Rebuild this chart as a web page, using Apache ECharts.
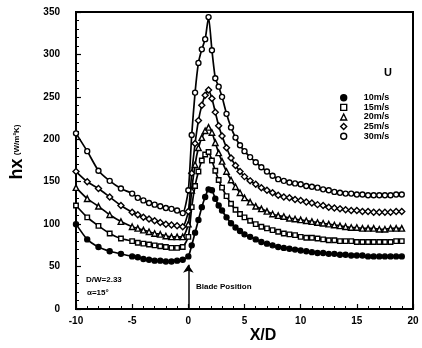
<!DOCTYPE html>
<html>
<head>
<meta charset="utf-8">
<script src="https://cdn.jsdelivr.net/npm/echarts@6/dist/echarts.min.js"></script>
<style>
  html, body { margin: 0; padding: 0; background: #fff; }
  #chart { width: 422px; height: 348px; }
</style>
</head>
<body>
<div id="chart"></div>
<script>
// X/D positions shared by all series
const xPos = [-10, -9, -8, -7, -6, -5, -4.5, -4, -3.5, -3, -2.5, -2, -1.5, -1, -0.5, 0,
  0.3, 0.6, 0.9, 1.2, 1.5, 1.8, 2.1, 2.4, 2.7, 3, 3.4, 3.8, 4.2, 4.6,
  5, 5.5, 6, 6.5, 7, 7.5, 8, 8.5, 9, 9.5, 10, 10.5, 11, 11.5, 12, 12.5, 13, 13.5,
  14, 14.5, 15, 15.5, 16, 16.5, 17, 17.5, 18, 18.5, 19];

// hx (W/m2K) for each velocity
const u10 = [100, 82, 73, 68, 65, 62, 61, 59, 58, 57, 57, 56, 56, 57, 58, 62,
  75, 90, 105, 120, 132, 141, 140, 130, 122, 116, 108, 101, 96, 92,
  88, 85, 82, 79, 77, 75, 73, 72, 71, 70, 69, 68, 67, 66, 66, 65, 65, 64,
  64, 63, 63, 63, 62, 62, 62, 62, 62, 62, 62];
const u15 = [122, 108, 98, 89, 83, 80, 78, 77, 76, 75, 74, 73, 72, 72, 73, 85,
  120, 145, 162, 175, 182, 185, 175, 163, 152, 143, 133, 124, 117, 112,
  108, 104, 100, 97, 95, 93, 91, 89, 88, 87, 85, 84, 84, 83, 82, 81, 81, 80,
  80, 80, 79, 79, 79, 79, 79, 79, 79, 80, 80];
const u20 = [143, 130, 121, 111, 103, 97, 95, 93, 91, 89, 88, 86, 85, 85, 85, 100,
  140, 170, 190, 202, 210, 214, 208, 196, 184, 174, 162, 152, 144, 137,
  131, 126, 121, 118, 115, 112, 110, 109, 107, 106, 105, 104, 103, 102, 101, 100, 99, 98,
  97, 96, 96, 95, 95, 95, 94, 94, 95, 95, 95];
const u25 = [162, 150, 142, 132, 122, 114, 111, 108, 106, 104, 102, 100, 99, 98, 97, 115,
  160, 195, 222, 240, 252, 258, 248, 232, 216, 204, 190, 178, 169, 162,
  156, 151, 147, 143, 140, 137, 134, 132, 131, 129, 128, 126, 125, 123, 122, 120, 119, 118,
  117, 116, 116, 115, 115, 114, 114, 114, 114, 115, 115];
const u30 = [207, 186, 163, 151, 142, 136, 131, 128, 125, 123, 121, 119, 118, 116, 113, 140,
  205, 255, 290, 306, 318, 344, 305, 272, 262, 250, 230, 214, 202, 193,
  186, 179, 173, 167, 162, 157, 153, 151, 149, 148, 147, 145, 144, 143, 141, 140, 138, 137,
  136, 136, 135, 135, 134, 134, 134, 134, 134, 135, 135];

const seriesNames = ['10m/s', '15m/s', '20m/s', '25m/s', '30m/s'];
const seriesValues = [u10, u15, u20, u25, u30];
const seriesSymbols = ['circle', 'rect', 'triangle', 'diamond', 'circle'];
const symbolSizes = [5, 4.5, 5.5, 6, 5];

const FONT = '"Liberation Sans", Arial, sans-serif';

const chart = echarts.init(document.getElementById('chart'));

const series = seriesNames.map((name, i) => {
  const filled = i === 0;
  const s = {
    name: name,
    type: 'line',
    data: xPos.map((x, k) => [x, seriesValues[i][k]]),
    symbol: seriesSymbols[i],
    symbolSize: symbolSizes[i],
    showAllSymbol: true,
    smooth: 0.2,
    lineStyle: { color: '#000', width: 1.7 },
    itemStyle: {
      color: filled ? '#000' : '#fff',
      borderColor: '#000',
      borderWidth: 1.4,
    },
    z: 2 + i,
  };
  if (i === 0) {
    // blade position arrow
    s.markLine = {
      silent: true,
      symbol: ['none', 'arrow'],
      symbolSize: 8,
      label: { show: false },
      lineStyle: { color: '#000', width: 1.5, type: 'solid' },
      data: [[{ coord: [0, 0] }, { coord: [0, 52] }]],
    };
  }
  return s;
});

chart.setOption({
  animation: false,
  grid: {
    left: 76,
    right: 9,
    top: 12,
    bottom: 39,
    show: true,
    borderColor: '#000',
    borderWidth: 2,
  },
  xAxis: {
    type: 'value',
    min: -10,
    max: 20,
    interval: 5,
    axisLine: { onZero: false, lineStyle: { color: '#000', width: 2 } },
    axisTick: { inside: true, length: 5, lineStyle: { color: '#000', width: 1.2 } },
    minorTick: { show: true, splitNumber: 5, length: 3, lineStyle: { color: '#000', width: 1 } },
    splitLine: { show: false },
    axisLabel: { color: '#000', fontFamily: FONT, fontWeight: 'bold', fontSize: 10, margin: 7 },
  },
  yAxis: {
    type: 'value',
    min: 0,
    max: 350,
    interval: 50,
    axisLine: { show: true, onZero: false, lineStyle: { color: '#000', width: 2 } },
    axisTick: { show: true, inside: true, length: 5, lineStyle: { color: '#000', width: 1.2 } },
    minorTick: { show: true, splitNumber: 5, length: 3, lineStyle: { color: '#000', width: 1 } },
    splitLine: { show: false },
    axisLabel: { color: '#000', fontFamily: FONT, fontWeight: 'bold', fontSize: 10, margin: 16 },
  },
  legend: {
    orient: 'vertical',
    left: 335,
    top: 88,
    itemWidth: 6,
    itemHeight: 6,
    itemGap: 0,
    textStyle: { color: '#000', fontFamily: FONT, fontWeight: 'bold', fontSize: 9, lineHeight: 9.6, padding: [0, 0, 0, 12] },
    data: seriesNames.map((name, i) => ({
      name: name,
      icon: seriesSymbols[i],
      itemStyle: { color: i === 0 ? '#000' : '#fff', borderColor: '#000', borderWidth: 1.4 },
    })),
  },
  graphic: [
    {
      type: 'text', x: 388, y: 73,
      style: { text: 'U', fill: '#000', font: 'bold 11px ' + FONT, align: 'center', verticalAlign: 'middle' },
    },
    {
      type: 'text', x: 17, y: 152, rotation: Math.PI / 2,
      style: {
        text: '{a|hx} {b|(W/m²K)}', fill: '#000', align: 'center', verticalAlign: 'middle',
        rich: {
          a: { font: 'bold 18px ' + FONT, fill: '#000' },
          b: { font: 'bold 8px ' + FONT, fill: '#000' },
        },
      },
    },
    {
      type: 'text', x: 263, y: 336,
      style: { text: 'X/D', fill: '#000', font: 'bold 16px ' + FONT, align: 'center', verticalAlign: 'middle' },
    },
    {
      type: 'text', x: 86, y: 280,
      style: { text: 'D/W=2.33', fill: '#000', font: 'bold 8px ' + FONT, verticalAlign: 'middle' },
    },
    {
      type: 'text', x: 87, y: 293,
      style: { text: 'α=15°', fill: '#000', font: 'bold 8px ' + FONT, verticalAlign: 'middle' },
    },
    {
      type: 'text', x: 196, y: 287,
      style: { text: 'Blade Position', fill: '#000', font: 'bold 8px ' + FONT, verticalAlign: 'middle' },
    },
  ],
  series: series,
});
</script>
</body>
</html>
